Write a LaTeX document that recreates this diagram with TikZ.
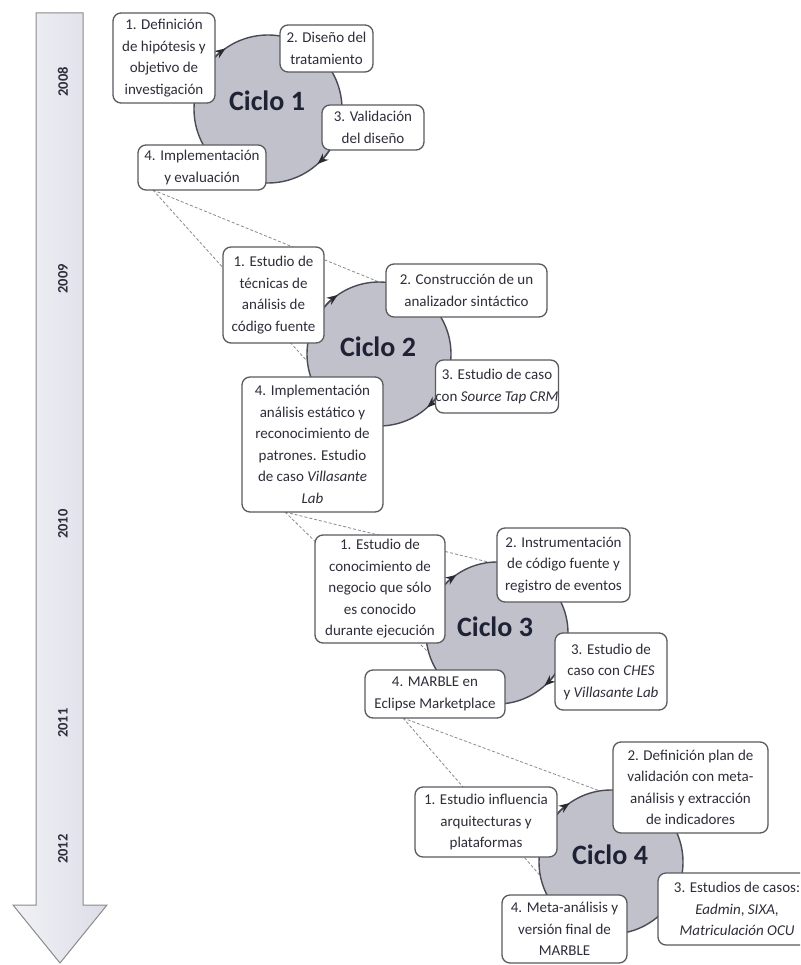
\documentclass[tikz,border=0pt]{standalone}
\usepackage{fontspec}
\setmainfont{Carlito}
\usetikzlibrary{arrows.meta,calc,backgrounds}

\definecolor{boxline}{HTML}{5A5A5E}
\definecolor{txt}{HTML}{2E2E3A}
\definecolor{cycfill}{HTML}{C1C1CB}
\definecolor{cycline}{HTML}{4A4A55}
\definecolor{tipcol}{HTML}{2A2A33}
\definecolor{cyctext}{HTML}{1E2235}
\definecolor{zoomgray}{HTML}{8A8A8A}
\definecolor{tlfillA}{HTML}{F1F1F6}
\definecolor{tlfillB}{HTML}{DDDDE8}
\definecolor{tlline}{HTML}{8A8A8A}

\tikzset{
  stepbox/.style={draw=boxline, line width=1.3pt, fill=white, rounded corners=8pt,
    align=center, text=txt, font=\fontsize{15}{21.5}\selectfont,
    inner sep=0pt, outer sep=0pt},
  cyc/.style={circle, draw=cycline, line width=1.4pt, fill=cycfill,
    inner sep=0pt, outer sep=0pt},
  cyclabel/.style={font=\fontsize{28}{30}\selectfont\bfseries, text=cyctext},
  turn/.style={draw=cycline, line width=1.4pt,
    -{Stealth[length=11pt,width=8.5pt,color=tipcol]}},
  zoomray/.style={draw=zoomgray, line width=0.8pt, dash pattern=on 3pt off 2pt},
  year/.style={rotate=90, font=\fontsize{14.5}{16}\selectfont\bfseries, text=txt},
}

\begin{document}
\begin{tikzpicture}[x=1pt,y=1pt]
\clip (0,0) rectangle (800,-965);

% timeline arrow
\path[draw=tlline, line width=1pt, left color=tlfillA, right color=tlfillB]
  (36,-13) -- (83,-13) -- (83,-905) -- (107,-905) -- (60,-963)
  -- (13,-905) -- (36,-905) -- cycle;
\node[year] (y2008) at (63,-82) {2008};
\node[year] (y2009) at (63,-279) {2009};
\node[year] (y2010) at (63,-524) {2010};
\node[year] (y2011) at (63,-723) {2011};
\node[year] (y2012) at (63,-849) {2012};

% cycle discs
\node[cyc, minimum size=148pt] (c1) at (268,-109) {};
\node[cyc, minimum size=144pt] (c2) at (379,-354) {};
\node[cyc, minimum size=142pt] (c3) at (497,-633) {};
\node[cyc, minimum size=144pt] (c4) at (611,-862) {};

\node[cyclabel] (l1) at (267,-101) {Ciclo 1};
\node[cyclabel] (l2) at (378,-347) {Ciclo 2};
\node[cyclabel] (l3) at (495,-627) {Ciclo 3};
\node[cyclabel] (l4) at (610,-855) {Ciclo 4};

% clockwise turn marks on each disc
\foreach \c/\r in {c1/74, c2/72, c3/71, c4/72}{
  \draw[turn] (\c.147) arc[start angle=147, end angle=125, radius=\r pt];
  \draw[turn] (\c.-26) arc[start angle=-26, end angle=-48, radius=\r pt];
}

% step boxes
\node[stepbox, minimum width=102pt, minimum height=90pt] (b11) at (164,-58)
  {1. Definición\\de hipótesis y\\objetivo de\\investigación};
\node[stepbox, minimum width=93pt, minimum height=47pt] (b12) at (326.5,-48.5)
  {2. Diseño del\\tratamiento};
\node[stepbox, minimum width=102pt, minimum height=45pt] (b13) at (373,-127.5)
  {3. Validación\\del diseño};
\node[stepbox, minimum width=128pt, minimum height=45pt] (b14) at (202,-167.5)
  {4. Implementación\\y evaluación};

\node[stepbox, minimum width=101pt, minimum height=96pt] (b21) at (273.5,-295)
  {1. Estudio de\\técnicas de\\análisis de\\código fuente};
\node[stepbox, minimum width=161pt, minimum height=53pt] (b22) at (466.5,-290.5)
  {2. Construcción de un\\analizador sintáctico};
\node[stepbox, minimum width=122pt, minimum height=53pt] (b23) at (497,-386.5)
  {3. Estudio de caso\\con \textit{Source Tap CRM}};
\node[stepbox, minimum width=141pt, minimum height=135pt] (b24) at (312.5,-444.5)
  {4. Implementación\\análisis estático y\\reconocimiento de\\patrones. Estudio\\de caso \textit{Villasante}\\\textit{Lab}};

\node[stepbox, minimum width=130pt, minimum height=108pt] (b31) at (380,-589)
  {1. Estudio de\\conocimiento de\\negocio que sólo\\es conocido\\durante ejecución};
\node[stepbox, minimum width=133pt, minimum height=74pt] (b32) at (563.5,-565)
  {2. Instrumentación\\de código fuente y\\registro de eventos};
\node[stepbox, minimum width=112pt, minimum height=77pt] (b33) at (611,-671.5)
  {3. Estudio de\\caso con \textit{CHES}\\y \textit{Villasante Lab}};
\node[stepbox, minimum width=140pt, minimum height=48pt] (b34) at (435,-694)
  {4. MARBLE en\\Eclipse Marketplace};

\node[stepbox, minimum width=142pt, minimum height=70pt] (b41) at (486,-822)
  {1. Estudio influencia\\arquitecturas y\\plataformas};
\node[stepbox, minimum width=155pt, minimum height=91pt] (b42) at (690.5,-787.5)
  {2. Definición plan de\\validación con meta-\\análisis y extracción\\de indicadores};
\node[stepbox, minimum width=158pt, minimum height=72pt] (b43) at (737,-909)
  {3. Estudios de casos:\\\textit{Eadmin}, \textit{SIXA},\\\textit{Matriculación OCU}};
\node[stepbox, minimum width=125pt, minimum height=68pt] (b44) at (564.5,-929)
  {4. Meta-análisis y\\versión final de\\MARBLE};

% zoom rays from each closing step to the next cycle, kept behind discs and boxes
\coordinate (z1) at ($(b14.south west)+(15,0)$);
\coordinate (z2) at ($(b24.south west)+(43,0)$);
\coordinate (z3) at ($(b34.south west)+(38,0)$);
\begin{pgfonlayer}{background}
  \draw[zoomray] (z1) -- (c2.90);
  \draw[zoomray] (z1) -- (c2.186);
  \draw[zoomray] (z2) -- (c3.96);
  \draw[zoomray] (z2) -- (c3.196);
  \draw[zoomray] (z3) -- (c4.99);
  \draw[zoomray] (z3) -- (c4.191);
\end{pgfonlayer}
\end{tikzpicture}
\end{document}
